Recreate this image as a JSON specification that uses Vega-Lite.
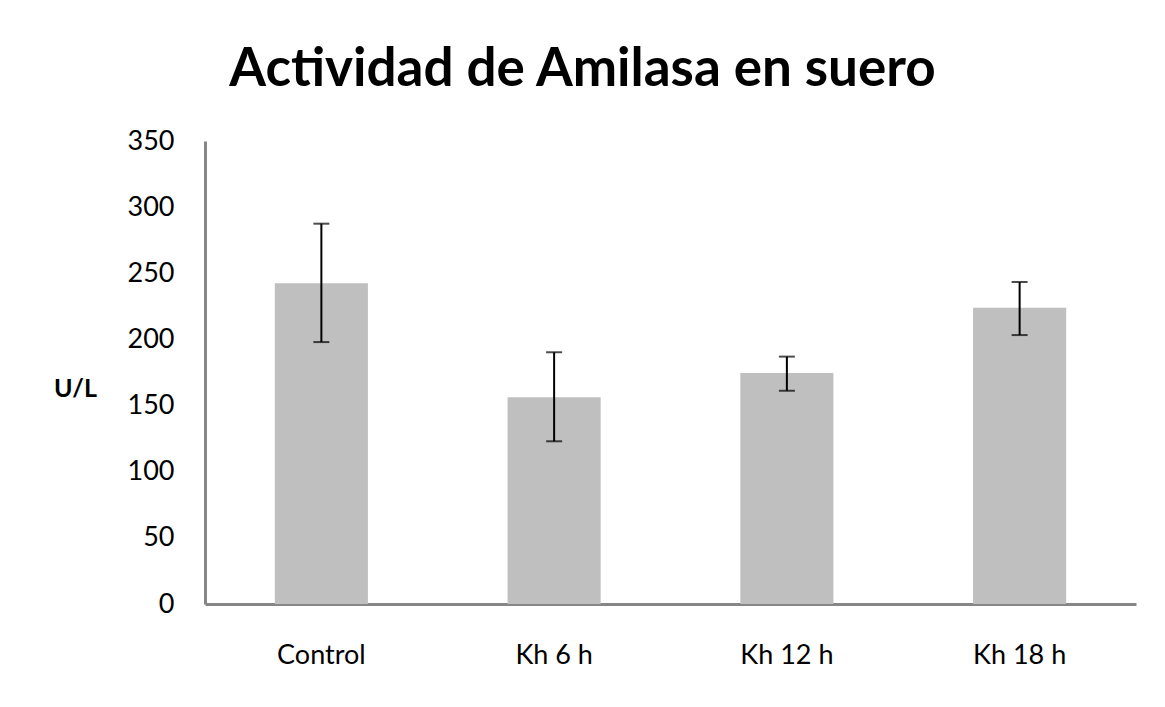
{
  "$schema": "https://vega.github.io/schema/vega-lite/v6.json",
  "autosize": "none",
  "width": 931,
  "height": 463,
  "padding": {"left": 205, "top": 141, "right": 29, "bottom": 103},
  "background": "white",
  "title": {
    "text": "Actividad de Amilasa en suero",
    "font": "Lato",
    "fontSize": 53,
    "fontWeight": "bold",
    "color": "black",
    "anchor": "middle",
    "baseline": "alphabetic",
    "dx": -88,
    "dy": 58,
    "offset": 46
  },
  "config": {
    "view": {"stroke": null},
    "axis": {"labelFont": "Lato", "titleFont": "Lato", "labelColor": "black", "titleColor": "black"}
  },
  "data": {
    "values": [
      {"grupo": "Control", "media": 242.4, "alto": 287.5, "bajo": 198},
      {"grupo": "Kh 6 h", "media": 156.2, "alto": 190.3, "bajo": 123},
      {"grupo": "Kh 12 h", "media": 174.6, "alto": 187, "bajo": 161.2},
      {"grupo": "Kh 18 h", "media": 224, "alto": 243.4, "bajo": 203.3}
    ]
  },
  "encoding": {
    "x": {
      "field": "grupo",
      "type": "nominal",
      "sort": null,
      "scale": {"paddingInner": 0.6, "paddingOuter": 0.3},
      "axis": {
        "title": null,
        "labelAngle": 0,
        "labelFontSize": 27,
        "labelPadding": 38,
        "ticks": false,
        "domainColor": "#868686",
        "domainWidth": 3
      }
    }
  },
  "layer": [
    {
      "mark": {"type": "bar", "color": "#BFBFBF"},
      "encoding": {
        "y": {
          "field": "media",
          "type": "quantitative",
          "scale": {"domain": [0, 350]},
          "axis": {
            "title": "U/L",
            "titleAngle": 0,
            "titleFontSize": 25,
            "titleFontWeight": "bold",
            "titleX": -130,
            "titleY": 247,
            "titleAlign": "center",
            "titleBaseline": "middle",
            "values": [0, 50, 100, 150, 200, 250, 300, 350],
            "labelFontSize": 27,
            "labelPadding": 31,
            "ticks": false,
            "grid": false,
            "domainColor": "#868686",
            "domainWidth": 3
          }
        }
      }
    },
    {
      "mark": {"type": "rule", "color": "black", "strokeWidth": 2},
      "encoding": {
        "y": {"field": "alto", "type": "quantitative"},
        "y2": {"field": "bajo"}
      }
    },
    {
      "mark": {"type": "tick", "color": "black", "thickness": 2, "size": 16},
      "encoding": {"y": {"field": "alto", "type": "quantitative"}}
    },
    {
      "mark": {"type": "tick", "color": "black", "thickness": 2, "size": 16},
      "encoding": {"y": {"field": "bajo", "type": "quantitative"}}
    }
  ]
}
